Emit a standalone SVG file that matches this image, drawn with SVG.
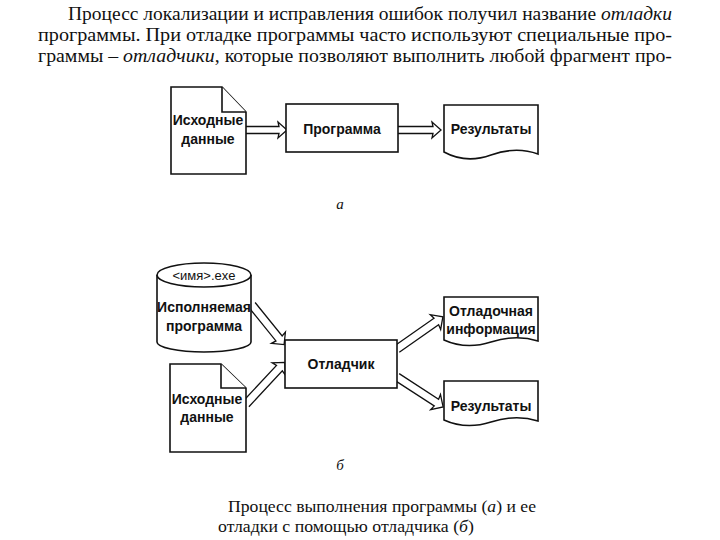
<svg xmlns="http://www.w3.org/2000/svg" width="720" height="540" viewBox="0 0 720 540">
<style>
.shape{fill:#fff;stroke:#111;stroke-width:1.6}
.arr{fill:#fff;stroke:#111;stroke-width:1.3;stroke-linejoin:miter}
.lbl{font-family:"Liberation Sans",Arial,sans-serif;font-size:14px;font-weight:bold;fill:#111;text-anchor:middle}
.body{font-family:"Liberation Serif","Times New Roman",serif;font-size:18px;fill:#111}
.cap{font-family:"Liberation Serif","Times New Roman",serif;font-size:17px;fill:#111}
.it{font-style:italic}
</style>
<rect width="720" height="540" fill="#fff"/>
<g id="paragraph">
<text class="body" x="68" y="20" textLength="604" lengthAdjust="spacingAndGlyphs">Процесс локализации и исправления ошибок получил название <tspan class="it">отладки</tspan></text>
<text class="body" x="38" y="41" textLength="634" lengthAdjust="spacingAndGlyphs">программы. При отладке программы часто используют специальные про-</text>
<text class="body" x="38" y="62" textLength="634" lengthAdjust="spacingAndGlyphs">граммы – <tspan class="it">отладчики</tspan>, которые позволяют выполнить любой фрагмент про-</text>
</g>
<g id="connectors">
<g transform="translate(246,130)"><path class="arr" d="M0,-3.5 H33 L32,-8 L41,0 L32,8 L33,3.5 H0"/></g>
<g transform="translate(398,130)"><path class="arr" d="M0,-3.5 H35 L34,-8 L43,0 L34,8 L35,3.5 H0"/></g>
<g transform="translate(252,305) rotate(51)"><path class="arr" d="M0,-4 H43 L42,-9 L51,0 L42,9 L43,4 H0"/></g>
<g transform="translate(246,404) rotate(-47)"><path class="arr" d="M0,-4 H49 L48,-9 L57,0 L48,9 L49,4 H0"/></g>
<g transform="translate(397,349) rotate(-35)"><path class="arr" d="M0,-4 H48 L47,-9 L56,0 L47,9 L48,4 H0"/></g>
<g transform="translate(397,377) rotate(33)"><path class="arr" d="M0,-4 H47 L46,-9 L55,0 L46,9 L47,4 H0"/></g>
</g>
<g id="a-input">
<path class="shape" d="M171,87 H222 L246,112 V174 H171 Z"/>
<path class="shape" fill="none" d="M222,87 V112 H246"/>
<text class="lbl" x="208" y="125">Исходные</text>
<text class="lbl" x="208" y="144">данные</text>
</g>
<g id="a-program">
<rect class="shape" x="286" y="104" width="112" height="48"/>
<text class="lbl" x="342" y="134">Программа</text>
</g>
<g id="a-results">
<path class="shape" d="M444,105 H538 V154 Q516,146 491,155 T444,152 Z"/>
<text class="lbl" x="491" y="134">Результаты</text>
</g>
<text class="cap it" x="340" y="209" text-anchor="middle" style="font-size:15px">а</text>
<g id="b-exe">
<path class="shape" d="M157,275 V342 A47,10 0 0 0 251,342 V275"/>
<ellipse class="shape" cx="204" cy="275" rx="47" ry="12"/>
<text class="lbl" x="204" y="280" style="font-weight:normal;font-size:13px">&lt;имя&gt;.exe</text>
<text class="lbl" x="204" y="312">Исполняемая</text>
<text class="lbl" x="204" y="331">программа</text>
</g>
<g id="b-input">
<path class="shape" d="M170,364 H221 L246,388 V452 H170 Z"/>
<path class="shape" fill="none" d="M221,364 V388 H246"/>
<text class="lbl" x="207" y="404">Исходные</text>
<text class="lbl" x="207" y="422">данные</text>
</g>
<g id="b-debugger">
<rect class="shape" x="285" y="340" width="112" height="48"/>
<text class="lbl" x="341" y="369">Отладчик</text>
</g>
<g id="b-info">
<path class="shape" d="M444,297 H538 V341 Q516,334 491,342 T444,340 Z"/>
<text class="lbl" x="491" y="316">Отладочная</text>
<text class="lbl" x="491" y="334">информация</text>
</g>
<g id="b-results">
<path class="shape" d="M444,381 H538 V421 Q516,414 491,422 T444,420 Z"/>
<text class="lbl" x="491" y="411">Результаты</text>
</g>
<text class="cap it" x="340" y="470" text-anchor="middle" style="font-size:15px">б</text>
<g id="caption">
<text class="cap" x="228" y="512" textLength="308" lengthAdjust="spacingAndGlyphs">Процесс выполнения программы (<tspan class="it">а</tspan>) и ее</text>
<text class="cap" x="218" y="532" textLength="256" lengthAdjust="spacingAndGlyphs">отладки с помощью отладчика (<tspan class="it">б</tspan>)</text>
</g>
</svg>
